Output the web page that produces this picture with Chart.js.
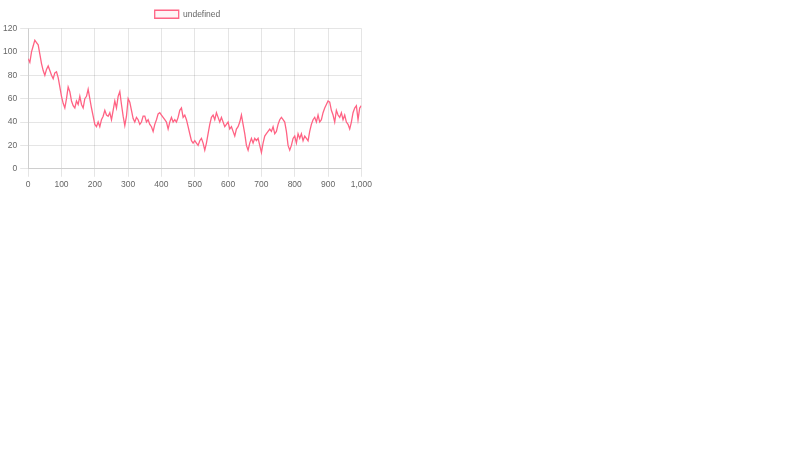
<!DOCTYPE html>
<html><head><script src="https://cdn.jsdelivr.net/npm/chart.js@4"></script>
<style>body{margin:0}#w{width:375px;height:193px}</style></head>
<body><div id="w"><canvas id="c"></canvas></div>
<script>
const xs = [];
for (let i = 0; i <= 1000; i += 5) xs.push(i);
const ys = [94,91,100,105,110,108,106,98,90,84,80,85,88,84,80,77,82,83,78,70,
62,56,52,60,70,66,58,54,52,58,55,62,55,52,60,62,68,60,52,45,
38,36,40,36,42,45,50,46,45,48,42,50,58,52,62,66,55,45,37,45,
60,57,50,43,40,44,42,38,40,45,45,40,42,38,36,32,38,42,47,48,
46,44,42,40,34,40,44,40,42,40,44,50,52,44,46,42,36,30,24,22,
24,22,20,24,26,22,16,22,30,38,44,46,42,48,44,40,44,40,36,38,
40,34,36,32,28,34,36,40,46,38,30,20,16,22,26,22,26,24,26,20,
14,22,28,30,32,34,32,36,30,32,38,42,44,42,40,32,20,16,20,26,
28,22,30,26,30,24,28,26,24,32,38,42,44,40,46,40,42,48,52,55,
58,57,50,46,40,50,46,44,48,42,46,40,38,34,40,48,52,54,42,52,54];
Chart.defaults.font.size = 8.5;
new Chart(document.getElementById('c'), {
  type: 'line',
  data: { datasets: [{ data: xs.map((x,i)=>({x, y: ys[i]})),
    borderColor: 'rgb(255,99,132)', backgroundColor: 'rgba(255,99,132,0.08)',
    borderWidth: 1.3, pointRadius: 0, tension: 0 }] },
  options: { animation: false, maintainAspectRatio: false,
    plugins: { legend: { labels: { boxWidth: 24, boxHeight: 8 } } },
    scales: { x: { type: 'linear', min: 0, max: 1000, ticks:{stepSize:100, maxRotation:0} }, y: { min: 0, max: 120 } } }
});
</script></body></html>
